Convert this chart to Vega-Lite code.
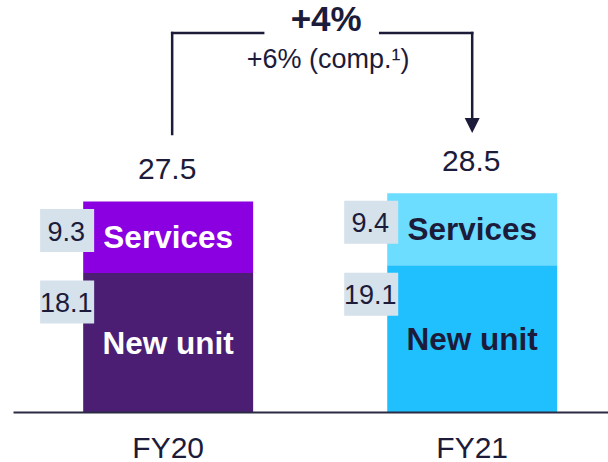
{
  "$schema": "https://vega.github.io/schema/vega-lite/v6.json",
  "width": 595,
  "height": 412,
  "autosize": {"type": "none"},
  "padding": {"left": 13, "top": 0, "right": 0, "bottom": 50},
  "background": "white",
  "config": {"view": {"stroke": null}, "font": "Liberation Sans"},
  "datasets": {
    "segments": [
      {"year": "FY20", "segment": "New unit", "value": 18.1},
      {"year": "FY20", "segment": "Services", "value": 9.3},
      {"year": "FY21", "segment": "New unit", "value": 19.1},
      {"year": "FY21", "segment": "Services", "value": 9.4}
    ],
    "totals": [
      {"year": "FY20", "total": 27.5},
      {"year": "FY21", "total": 28.5}
    ],
    "growth": [
      {"headline": "+4%", "comparable": "+6% (comp.¹)"}
    ]
  },
  "layer": [
    {
      "data": {"name": "segments"},
      "transform": [
        {"stack": "value", "groupby": ["year"], "sort": [{"field": "segment", "order": "ascending"}], "as": ["v0", "v1"]}
      ],
      "mark": {"type": "bar"},
      "encoding": {
        "x": {
          "field": "year", "type": "nominal",
          "scale": {"domain": ["FY20", "FY21"], "paddingInner": 0.441, "paddingOuter": 0.199, "align": 0.58},
          "axis": {"title": null, "domain": true, "domainColor": "#2B2A45", "domainWidth": 2, "ticks": false, "grid": false, "labelFontSize": 30, "labelColor": "#1C1B3A", "labelPadding": 21, "labelAngle": 0, "labelFont": "Liberation Sans", "zindex": 1}
        },
        "y": {"field": "v1", "type": "quantitative", "scale": {"domain": [0, 53.65], "nice": false, "zero": true}, "axis": null},
        "y2": {"field": "v0"},
        "color": {
          "condition": [
            {"test": "datum.year === 'FY20' && datum.segment === 'Services'", "value": "#8A00E0"},
            {"test": "datum.year === 'FY20'", "value": "#4B1E74"},
            {"test": "datum.segment === 'Services'", "value": "#6CDCFF"}
          ],
          "value": "#20C0FF"
        }
      }
    },
    {
      "data": {"name": "segments"},
      "transform": [
        {"stack": "value", "groupby": ["year"], "sort": [{"field": "segment", "order": "ascending"}], "as": ["v0", "v1"]},
        {"calculate": "(datum.v0 + datum.v1) / 2", "as": "mid"}
      ],
      "mark": {"type": "text", "fontWeight": "bold", "fontSize": 31.5, "baseline": "middle", "align": "center", "dy": 2},
      "encoding": {
        "x": {"field": "year", "type": "nominal", "title": null},
        "y": {"field": "mid", "type": "quantitative", "axis": null},
        "text": {"field": "segment"},
        "color": {"condition": {"test": "datum.year === 'FY20'", "value": "#FFFFFF"}, "value": "#1C1B3A"}
      }
    },
    {
      "data": {"name": "segments"},
      "transform": [
        {"stack": "value", "groupby": ["year"], "sort": [{"field": "segment", "order": "ascending"}], "as": ["v0", "v1"]}
      ],
      "mark": {"type": "point", "shape": "M-1,-0.796L1,-0.796L1,0.796L-1,0.796Z", "size": 2916, "filled": true, "color": "#D5E1EB", "opacity": 1, "strokeWidth": 0, "xOffset": -101, "yOffset": 29},
      "encoding": {
        "x": {"field": "year", "type": "nominal", "title": null},
        "y": {"field": "v1", "type": "quantitative", "axis": null}
      }
    },
    {
      "data": {"name": "segments"},
      "transform": [
        {"stack": "value", "groupby": ["year"], "sort": [{"field": "segment", "order": "ascending"}], "as": ["v0", "v1"]}
      ],
      "mark": {"type": "text", "fontSize": 27, "baseline": "middle", "align": "center", "color": "#1C1B3A", "xOffset": -102, "yOffset": 31},
      "encoding": {
        "x": {"field": "year", "type": "nominal", "title": null},
        "y": {"field": "v1", "type": "quantitative", "axis": null},
        "text": {"field": "value", "format": ".1f"}
      }
    },
    {
      "data": {"name": "totals"},
      "mark": {"type": "text", "fontSize": 30, "baseline": "alphabetic", "align": "center", "color": "#1C1B3A", "dy": -22, "xOffset": -1},
      "encoding": {
        "x": {"field": "year", "type": "nominal", "title": null},
        "y": {"field": "total", "type": "quantitative", "axis": null},
        "text": {"field": "total", "format": ".1f"}
      }
    },
    {
      "data": {"values": [{}]},
      "mark": {"type": "rule", "color": "#1C1B3A", "strokeWidth": 2.5, "strokeCap": "square", "xOffset": 4},
      "encoding": {
        "x": {"datum": "FY20"},
        "y": {"datum": 36.2, "type": "quantitative", "axis": null},
        "y2": {"datum": 49.35}
      }
    },
    {
      "data": {"values": [{}]},
      "mark": {"type": "rule", "color": "#1C1B3A", "strokeWidth": 2.5, "strokeCap": "square", "xOffset": 4, "x2Offset": 95},
      "encoding": {
        "x": {"datum": "FY20"},
        "x2": {"datum": "FY20"},
        "y": {"datum": 49.35, "type": "quantitative", "axis": null}
      }
    },
    {
      "data": {"values": [{}]},
      "mark": {"type": "rule", "color": "#1C1B3A", "strokeWidth": 2.5, "strokeCap": "square", "xOffset": -92, "x2Offset": 0},
      "encoding": {
        "x": {"datum": "FY21"},
        "x2": {"datum": "FY21"},
        "y": {"datum": 49.35, "type": "quantitative", "axis": null}
      }
    },
    {
      "data": {"values": [{}]},
      "mark": {"type": "rule", "color": "#1C1B3A", "strokeWidth": 2.5, "strokeCap": "square"},
      "encoding": {
        "x": {"datum": "FY21"},
        "y": {"datum": 37.8, "type": "quantitative", "axis": null},
        "y2": {"datum": 49.35}
      }
    },
    {
      "data": {"values": [{}]},
      "mark": {"type": "point", "shape": "M-1,-1L1,-1L0,1Z", "size": 225, "filled": true, "color": "#1C1B3A", "opacity": 1, "strokeWidth": 0},
      "encoding": {
        "x": {"datum": "FY21"},
        "y": {"datum": 37.3, "type": "quantitative", "axis": null}
      }
    },
    {
      "data": {"name": "growth"},
      "mark": {"type": "text", "fontSize": 35, "fontWeight": "bold", "baseline": "alphabetic", "align": "center", "color": "#1C1B3A", "xOffset": 158},
      "encoding": {
        "x": {"datum": "FY20"},
        "y": {"datum": 49.6, "type": "quantitative", "axis": null},
        "text": {"field": "headline"}
      }
    },
    {
      "data": {"name": "growth"},
      "mark": {"type": "text", "fontSize": 27, "baseline": "alphabetic", "align": "center", "color": "#1C1B3A", "xOffset": 160},
      "encoding": {
        "x": {"datum": "FY20"},
        "y": {"datum": 44.8, "type": "quantitative", "axis": null},
        "text": {"field": "comparable"}
      }
    }
  ]
}
